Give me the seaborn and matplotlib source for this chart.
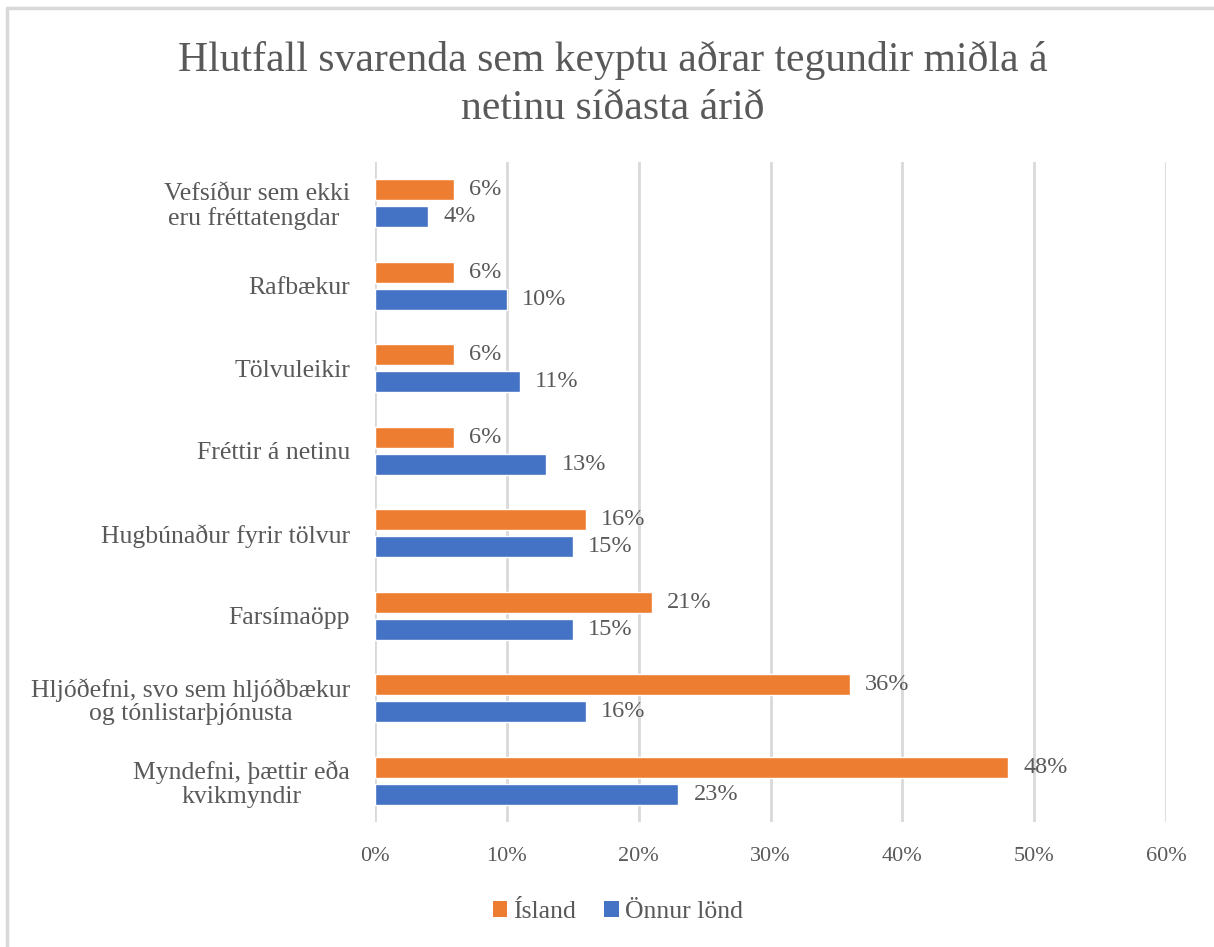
import matplotlib
matplotlib.use("Agg")
import matplotlib.pyplot as plt
import seaborn as sns
import pandas as pd
from matplotlib.lines import Line2D
from matplotlib.patches import Patch

categories = [
    "Vefsíður sem ekki\neru fréttatengdar ",
    "Rafbækur",
    "Tölvuleikir",
    "Fréttir á netinu",
    "Hugbúnaður fyrir tölvur",
    "Farsímaöpp",
    "Hljóðefni, svo sem hljóðbækur\nog tónlistarþjónusta",
    "Myndefni, þættir eða\nkvikmyndir",
]
island = [6, 6, 6, 6, 16, 21, 36, 48]
onnur = [4, 10, 11, 13, 15, 15, 16, 23]
series_names = ["Ísland", "Önnur lönd"]
x_ticks = [0, 10, 20, 30, 40, 50, 60]
title = "Hlutfall svarenda sem keyptu aðrar tegundir miðla á\nnetinu síðasta árið"

colors = ["#ED7D31", "#4472C4"]
text_color = "#595959"
grid_color = "#D9D9D9"

sns.set_theme(style="white")
plt.rcParams["font.family"] = ["Liberation Serif", "DejaVu Serif"]

df = pd.DataFrame({
    "flokkur": categories * 2,
    "hlutfall": island + onnur,
    "land": [series_names[0]] * len(categories) + [series_names[1]] * len(categories),
})

fig = plt.figure(figsize=(12.14, 9.47), dpi=100)
ax = fig.add_axes([0.3089, 0.1320, 0.6516, 0.6969])

sns.barplot(
    data=df, x="hlutfall", y="flokkur", hue="land",
    hue_order=series_names, order=categories,
    palette=colors, orient="h", width=0.654, gap=0.22,
    saturation=1, legend=False, ax=ax,
)

ax.set_xlim(x_ticks[0], x_ticks[-1])
ax.set_ylim(len(categories) - 0.5, -0.5)
ax.set_xticks(x_ticks)
ax.set_xticklabels([f"{t}%" for t in x_ticks])
ax.set_xlabel("")
ax.set_ylabel("")
for s in ax.spines.values():
    s.set_visible(False)

ax.xaxis.grid(True, color=grid_color, linewidth=2)
ax.yaxis.grid(False)
ax.set_axisbelow(True)
ax.tick_params(axis="x", length=0, pad=18, labelsize=16, labelcolor=text_color)
ax.tick_params(axis="y", length=0, pad=18, labelsize=18.5, labelcolor=text_color)
for lbl in ax.get_yticklabels():
    lbl.set_multialignment("center")
    lbl.set_linespacing(1.1)

for cont in ax.containers:
    ax.bar_label(cont, fmt="%.0f%%", padding=11, fontsize=17.5, color=text_color)

fig.text(0.505, 0.911, title, ha="center", va="center", fontsize=30,
         color=text_color, linespacing=1.3)

handles = [Patch(facecolor=c, edgecolor="none") for c in colors]
fig.legend(handles, series_names, loc="center", bbox_to_anchor=(0.509, 0.037),
           ncol=2, frameon=False, fontsize=18.5, handlelength=0.58, handleheight=0.55,
           handletextpad=0.23, columnspacing=1.1, labelcolor=text_color)

# chart area frame (top and left edges)
fig.add_artist(Line2D([7 / 1214, 1], [1 - 8 / 947, 1 - 8 / 947], transform=fig.transFigure,
                      color=grid_color, linewidth=2.5))
fig.add_artist(Line2D([7 / 1214, 7 / 1214], [0, 1 - 8 / 947], transform=fig.transFigure,
                      color=grid_color, linewidth=2.5))

fig.savefig("out.png", dpi=100, facecolor="white")
